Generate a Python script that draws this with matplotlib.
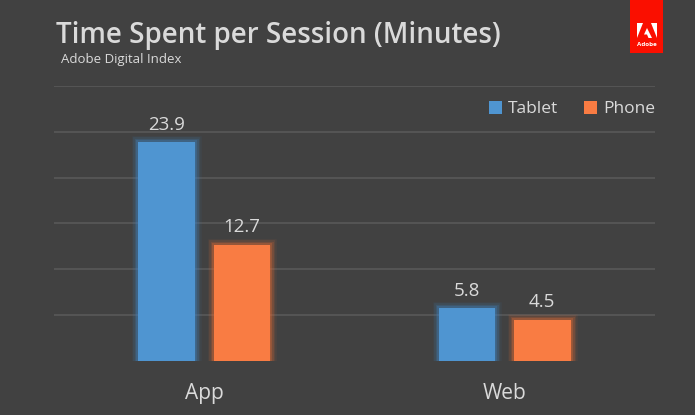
import numpy as np
import matplotlib
matplotlib.use("Agg")
import matplotlib.pyplot as plt
import matplotlib.patheffects as pe
from matplotlib.patches import Rectangle, Polygon

# data
categories = ["App", "Web"]
tablet = [23.9, 5.8]
phone = [12.7, 4.5]
series_names = ["Tablet", "Phone"]

BG = "#414141"
TXT = "#dadada"
BLUE = "#4f95d1"
ORANGE = "#f97c43"
GRID = "#575757"

plt.rcParams["font.family"] = ["Open Sans", "DejaVu Sans"]

fig = plt.figure(figsize=(6.95, 4.15), dpi=100, facecolor=BG)
ax = fig.add_axes([54 / 695, 54 / 415, 601 / 695, 275 / 415], facecolor=BG)

x = np.arange(len(categories))
w = 0.188
off = 0.125

def glow(c):
    fx = [pe.withStroke(linewidth=lw, foreground=c, alpha=a)
          for lw, a in [(9, 0.08), (7, 0.12), (5, 0.18), (3, 0.3)]]
    return fx + [pe.Normal()]

b1 = ax.bar(x - off, tablet, w, color=BLUE, edgecolor="none", zorder=3)
b2 = ax.bar(x + off, phone, w, color=ORANGE, edgecolor="none", zorder=3)
for b in b1:
    b.set_path_effects(glow("#3f82c0"))
for b in b2:
    b.set_path_effects(glow("#e06a35"))

for bars, vals in [(b1, tablet), (b2, phone)]:
    for b, v in zip(bars, vals):
        ax.annotate(f"{v}", (b.get_x() + b.get_width() / 2, v),
                    xytext=(0, 6), textcoords="offset points",
                    ha="center", va="bottom", color=TXT, fontsize=13.5)

ax.set_xlim(-0.5, 1.5)
ax.set_ylim(0, 30)
ax.set_yticks([5, 10, 15, 20, 25, 30])
ax.yaxis.grid(True, color=GRID, linewidth=1.3)
ax.set_axisbelow(True)
ax.tick_params(left=False, bottom=False, labelleft=False)
ax.set_xticks(x)
ax.set_xticklabels(categories, color=TXT, fontsize=15)
ax.tick_params(axis="x", pad=12)
for s in ax.spines.values():
    s.set_visible(False)

# legend
leg = ax.legend([b1, b2], series_names, loc="center right", bbox_to_anchor=(1.0, 0.916),
                ncol=2, frameon=False, fontsize=12.5, handlelength=0.75, handleheight=0.75,
                handletextpad=0.35, columnspacing=1.5, labelcolor=TXT,
                borderaxespad=0, borderpad=0)
for h in leg.legend_handles:
    h.set_path_effects([])

# titles
fig.text(56 / 695, 1 - 43 / 415, "Time Spent per Session (Minutes)", color=TXT,
         fontsize=20, ha="left", va="baseline", fontweight="semibold")
fig.text(61 / 695, 1 - 63 / 415, "Adobe Digital Index", color=TXT,
         fontsize=9.5, ha="left", va="baseline")

# adobe logo
fig.patches.append(Rectangle((630 / 695, 1 - 53 / 415), 33 / 695, 53 / 415,
                             transform=fig.transFigure, facecolor="#fa0f00", edgecolor="none"))
def P(pts):
    return Polygon([(px / 695, 1 - py / 415) for px, py in pts], closed=True,
                   transform=fig.transFigure, facecolor="white", edgecolor="none")
fig.patches.append(P([(637, 23), (643, 23), (637, 38)]))
fig.patches.append(P([(651, 23), (657, 23), (657, 38)]))
fig.patches.append(P([(647, 28), (652, 38), (648.5, 38), (647, 34.5), (644, 34.5)]))
fig.text(646.5 / 695, 1 - 44 / 415, "Adobe", color="white", fontsize=4.5,
         ha="center", va="center", fontweight="bold")

fig.savefig("out.png", dpi=100, facecolor=BG)
